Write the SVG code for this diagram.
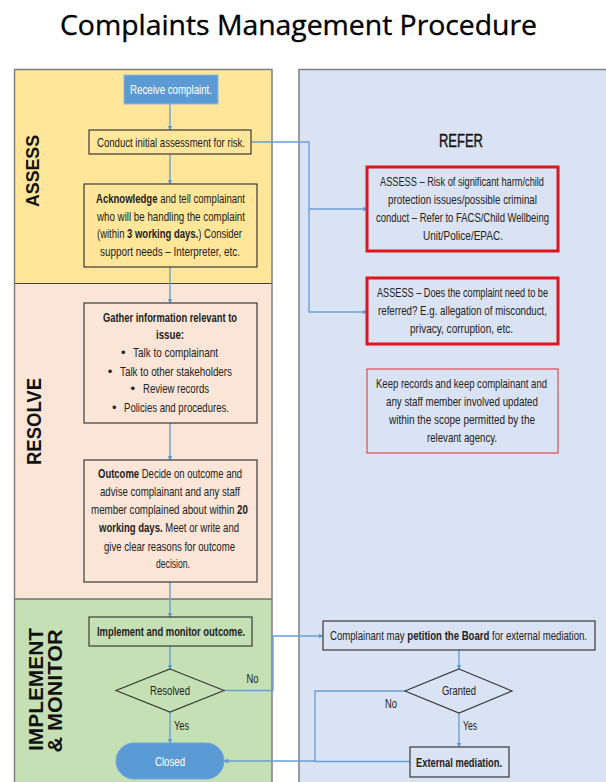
<svg xmlns="http://www.w3.org/2000/svg" width="606" height="782" viewBox="0 0 606 782">
<style>
.t{font-family:"Liberation Sans",Arial,sans-serif;font-size:13px;fill:#222;text-anchor:middle}
.s{font-family:"Liberation Sans",Arial,sans-serif;font-size:13px;fill:#222}
.b{font-weight:bold}
.box{stroke:#3a3a3a;stroke-width:1.2}
.lane{font-family:"Liberation Sans",Arial,sans-serif;font-weight:bold;fill:#111;text-anchor:middle}
.c{fill:none;stroke:#6a9fd6;stroke-width:1.4}
.red{fill:#dae3f3;stroke:#e3131b;stroke-width:3}
</style>
<defs>
<marker id="ah" viewBox="0 0 10 10" refX="9" refY="5" markerWidth="5" markerHeight="5" orient="auto" markerUnits="userSpaceOnUse">
<path d="M0,0 L10,5 L0,10 z" fill="#5b9bd5"/>
</marker>
</defs>
<rect width="606" height="782" fill="#ffffff"/>
<text x="298.5" y="35" font-family="'Open Sans','Noto Sans',sans-serif" font-size="28" fill="#000" stroke="#000" stroke-width="0.35" text-anchor="middle" textLength="477" lengthAdjust="spacingAndGlyphs">Complaints Management Procedure</text>

<g id="lanes">
<rect x="14.5" y="69.5" width="257.5" height="214" fill="#ffe699"/>
<rect x="14.5" y="283.5" width="257.5" height="315.5" fill="#fbe5d6"/>
<rect x="14.5" y="599" width="257.5" height="200" fill="#c5e0b4"/>
<line x1="14.5" y1="283.5" x2="272" y2="283.5" stroke="#404040" stroke-width="1.2"/>
<line x1="14.5" y1="599" x2="272" y2="599" stroke="#404040" stroke-width="1.2"/>
<rect x="14.5" y="69.5" width="257.5" height="730" fill="none" stroke="#7f7f7f" stroke-width="1.5"/>
<rect x="299" y="69.5" width="320" height="730" fill="#dae3f3" stroke="#7f7f7f" stroke-width="1.5"/>
<text class="lane" font-size="19" transform="translate(39,171) rotate(-90)" textLength="72" lengthAdjust="spacingAndGlyphs">ASSESS</text>
<text class="lane" font-size="20" transform="translate(40.5,421.5) rotate(-90)" textLength="87" lengthAdjust="spacingAndGlyphs">RESOLVE</text>
<text class="lane" font-size="20" transform="translate(43,689.5) rotate(-90)" textLength="123" lengthAdjust="spacingAndGlyphs">IMPLEMENT</text>
<text class="lane" font-size="20" transform="translate(62,691) rotate(-90)" textLength="123" lengthAdjust="spacingAndGlyphs">&amp; MONITOR</text>
<text x="461" y="147" font-family="'Liberation Sans',Arial,sans-serif" font-size="18" fill="#111" stroke="#111" stroke-width="0.4" text-anchor="middle" textLength="44" lengthAdjust="spacingAndGlyphs">REFER</text>
</g>

<g id="connectors">
<line class="c" x1="170" y1="104" x2="170" y2="130" marker-end="url(#ah)"/>
<line class="c" x1="170" y1="154" x2="170" y2="184" marker-end="url(#ah)"/>
<line class="c" x1="170" y1="267" x2="170" y2="303" marker-end="url(#ah)"/>
<line class="c" x1="170" y1="423" x2="170" y2="460" marker-end="url(#ah)"/>
<line class="c" x1="170" y1="582" x2="170" y2="617" marker-end="url(#ah)"/>
<line class="c" x1="170" y1="646" x2="170" y2="669" marker-end="url(#ah)"/>
<line class="c" x1="170" y1="712" x2="170" y2="743" marker-end="url(#ah)"/>
<path class="c" d="M251,142 H309 V312 H367" marker-end="url(#ah)"/>
<path class="c" d="M309,209 H367" marker-end="url(#ah)"/>
<path class="c" d="M224,690.5 H273 V636 H323" marker-end="url(#ah)"/>
<line class="c" x1="459" y1="650" x2="459" y2="669" marker-end="url(#ah)"/>
<line class="c" x1="459" y1="713" x2="459" y2="747" marker-end="url(#ah)"/>
<path class="c" d="M405,691 H315 V761 H224" marker-end="url(#ah)"/>
<path class="c" d="M410,761.5 H315"/>
<text class="t" x="252.5" y="683" textLength="12" lengthAdjust="spacingAndGlyphs">No</text>
<text class="t" x="181.5" y="730" textLength="15" lengthAdjust="spacingAndGlyphs">Yes</text>
<text class="t" x="391" y="708" textLength="12" lengthAdjust="spacingAndGlyphs">No</text>
<text class="t" x="470" y="730" textLength="14" lengthAdjust="spacingAndGlyphs">Yes</text>
</g>

<g id="receive">
<rect x="124" y="75" width="94" height="29" fill="#5b9bd5" stroke="#8db4e0" stroke-width="1"/>
<text class="t" x="171" y="94" style="fill:#fff" textLength="82" lengthAdjust="spacingAndGlyphs">Receive complaint.</text>
</g>

<g id="conduct">
<rect class="box" x="89" y="130" width="162" height="24" fill="#ffe699"/>
<text class="t" x="171" y="146.5" textLength="148" lengthAdjust="spacingAndGlyphs">Conduct initial assessment for risk.</text>
</g>

<g id="acknowledge">
<rect class="box" x="84" y="184" width="173" height="83" fill="#ffe699"/>
<text class="t" x="170.5" y="203" textLength="149" lengthAdjust="spacingAndGlyphs"><tspan class="b">Acknowledge</tspan> and tell complainant</text>
<text class="t" x="171" y="220.5" textLength="148" lengthAdjust="spacingAndGlyphs">who will be handling the complaint</text>
<text class="t" x="169.5" y="238" textLength="145" lengthAdjust="spacingAndGlyphs">(within <tspan class="b">3 working days.</tspan>) Consider</text>
<text class="t" x="170" y="256" textLength="140" lengthAdjust="spacingAndGlyphs">support needs – Interpreter, etc.</text>
</g>

<g id="gather">
<rect class="box" x="84" y="303" width="173" height="120" fill="#fbe5d6"/>
<text class="t b" x="170" y="321.5" textLength="134" lengthAdjust="spacingAndGlyphs">Gather information relevant to</text>
<text class="t b" x="170" y="339" textLength="28" lengthAdjust="spacingAndGlyphs">issue:</text>
<text class="t" x="123.3" y="357">•</text>
<text class="s" x="133" y="357" textLength="85" lengthAdjust="spacingAndGlyphs">Talk to complainant</text>
<text class="t" x="110" y="375.5">•</text>
<text class="s" x="120" y="375.5" textLength="112" lengthAdjust="spacingAndGlyphs">Talk to other stakeholders</text>
<text class="t" x="132.7" y="393">•</text>
<text class="s" x="143" y="393" textLength="66" lengthAdjust="spacingAndGlyphs">Review records</text>
<text class="t" x="114.3" y="411.5">•</text>
<text class="s" x="124" y="411.5" textLength="105" lengthAdjust="spacingAndGlyphs">Policies and procedures.</text>
</g>

<g id="outcome">
<rect class="box" x="84" y="460" width="173" height="122" fill="#fbe5d6"/>
<text class="t" x="170" y="478" textLength="144" lengthAdjust="spacingAndGlyphs"><tspan class="b">Outcome</tspan> Decide on outcome and</text>
<text class="t" x="170" y="496" textLength="140" lengthAdjust="spacingAndGlyphs">advise complainant and any staff</text>
<text class="t" x="169.5" y="514" textLength="157" lengthAdjust="spacingAndGlyphs">member complained about within <tspan class="b">20</tspan></text>
<text class="t" x="169" y="532" textLength="140" lengthAdjust="spacingAndGlyphs"><tspan class="b">working days.</tspan> Meet or write and</text>
<text class="t" x="169.5" y="550.5" textLength="131" lengthAdjust="spacingAndGlyphs">give clear reasons for outcome</text>
<text class="t" x="173" y="568" textLength="34" lengthAdjust="spacingAndGlyphs">decision.</text>
</g>

<g id="implement">
<rect class="box" x="89" y="617" width="163" height="29" fill="#c5e0b4"/>
<text class="t b" x="171" y="636" textLength="148" lengthAdjust="spacingAndGlyphs">Implement and monitor outcome.</text>
</g>

<g id="resolved">
<polygon class="box" points="170,669 224,690.5 170,712 116,690.5" fill="#c5e0b4"/>
<text class="t" x="170" y="695" textLength="40" lengthAdjust="spacingAndGlyphs">Resolved</text>
</g>

<g id="closed">
<rect x="116" y="743" width="108" height="36" rx="18" fill="#5b9bd5" stroke="#6fa6dc" stroke-width="1"/>
<text class="t" x="170" y="765.5" style="fill:#fff" textLength="30" lengthAdjust="spacingAndGlyphs">Closed</text>
</g>

<g id="refer-harm">
<rect class="red" x="367" y="167" width="191" height="84"/>
<text class="t" x="462" y="186" textLength="164" lengthAdjust="spacingAndGlyphs">ASSESS – Risk of significant harm/child</text>
<text class="t" x="462.5" y="204" textLength="149" lengthAdjust="spacingAndGlyphs">protection issues/possible criminal</text>
<text class="t" x="462.5" y="222" textLength="173" lengthAdjust="spacingAndGlyphs">conduct – Refer to FACS/Child Wellbeing</text>
<text class="t" x="463" y="240" textLength="80" lengthAdjust="spacingAndGlyphs">Unit/Police/EPAC.</text>
</g>

<g id="refer-misconduct">
<rect class="red" x="367" y="278" width="191" height="66"/>
<text class="t" x="462.5" y="297" textLength="171" lengthAdjust="spacingAndGlyphs">ASSESS – Does the complaint need to be</text>
<text class="t" x="462.5" y="315" textLength="169" lengthAdjust="spacingAndGlyphs">referred? E.g. allegation of misconduct,</text>
<text class="t" x="461.5" y="333" textLength="103" lengthAdjust="spacingAndGlyphs">privacy, corruption, etc.</text>
</g>

<g id="keep-records">
<rect x="367" y="369" width="191" height="84" fill="#dae3f3" stroke="#e0575d" stroke-width="1.3"/>
<text class="t" x="461.5" y="388" textLength="171" lengthAdjust="spacingAndGlyphs">Keep records and keep complainant and</text>
<text class="t" x="462" y="406" textLength="152" lengthAdjust="spacingAndGlyphs">any staff member involved updated</text>
<text class="t" x="462" y="424" textLength="146" lengthAdjust="spacingAndGlyphs">within the scope permitted by the</text>
<text class="t" x="462" y="442" textLength="70" lengthAdjust="spacingAndGlyphs">relevant agency.</text>
</g>

<g id="petition">
<rect class="box" x="323" y="621" width="272" height="29" fill="#dae3f3"/>
<text class="t" x="458.5" y="640" textLength="257" lengthAdjust="spacingAndGlyphs">Complainant may <tspan class="b">petition the Board</tspan> for external mediation.</text>
</g>

<g id="granted">
<polygon class="box" points="459,669 512,691 459,713 405,691" fill="#dae3f3"/>
<text class="t" x="459" y="695" textLength="34" lengthAdjust="spacingAndGlyphs">Granted</text>
</g>

<g id="external">
<rect class="box" x="410" y="747" width="99" height="30" fill="#dae3f3"/>
<text class="t b" x="459" y="767" textLength="86" lengthAdjust="spacingAndGlyphs">External mediation.</text>
</g>
</svg>
